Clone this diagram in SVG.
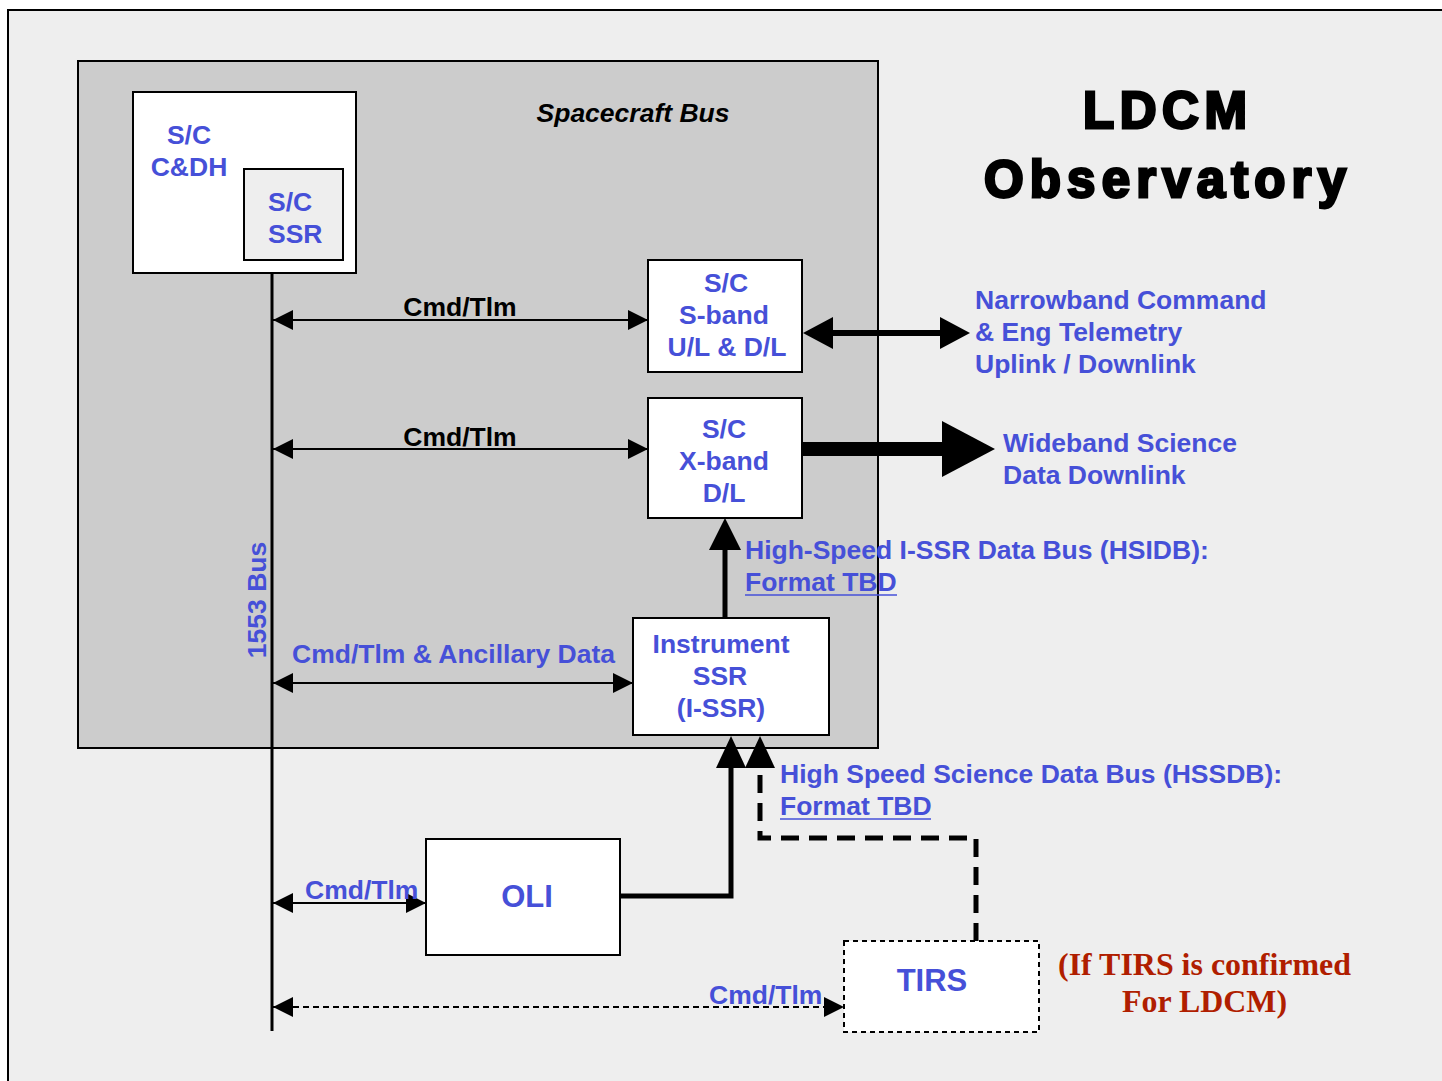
<svg xmlns="http://www.w3.org/2000/svg" width="1442" height="1081" viewBox="0 0 1442 1081">
<style>
.b{font-family:"Liberation Sans",Arial,sans-serif;font-weight:bold;font-size:26.5px;fill:#4650d8}
.k{font-family:"Liberation Sans",Arial,sans-serif;font-weight:bold;font-size:26.5px;fill:#000}
.m{text-anchor:middle}
.big{font-size:31px}
.box{fill:#fff;stroke:#000;stroke-width:2}
.thin{stroke:#000;stroke-width:2;fill:none}
.ul{stroke:#4650d8;stroke-width:1.5}
.ttl{font-family:"Liberation Sans",Arial,sans-serif;font-weight:bold;font-size:51px;fill:#000;stroke:#000;stroke-width:2.8px}
.red{font-family:"Liberation Serif","Times New Roman",serif;font-weight:bold;font-size:31px;fill:#b01e00}
</style>
<defs>
<marker id="ah" viewBox="0 0 20 20" refX="20" refY="10" markerWidth="20" markerHeight="20" markerUnits="userSpaceOnUse" orient="auto-start-reverse">
<path d="M0,0 L20,10 L0,20 Z" fill="#000"/>
</marker>
</defs>
<rect x="0" y="0" width="1442" height="1081" fill="#fff"/>
<rect x="8" y="10" width="1440" height="1080" fill="#eeeeee" stroke="#000" stroke-width="2"/>

<g id="spacecraft-bus">
<rect x="78" y="61" width="800" height="687" fill="#cccccc" stroke="#000" stroke-width="2"/>
<text class="k" x="633" y="122" text-anchor="middle" font-style="italic">Spacecraft Bus</text>
</g>

<g id="title">
<text class="ttl" x="1083" y="128" textLength="164" lengthAdjust="spacing">LDCM</text>
<text class="ttl" x="984" y="197" textLength="362" lengthAdjust="spacing">Observatory</text>
</g>

<g id="connectors">
<line x1="272" y1="268" x2="272" y2="1031" stroke="#000" stroke-width="3"/>
<line x1="273" y1="320" x2="648" y2="320" class="thin" marker-start="url(#ah)" marker-end="url(#ah)"/>
<line x1="273" y1="449" x2="648" y2="449" class="thin" marker-start="url(#ah)" marker-end="url(#ah)"/>
<line x1="273" y1="683" x2="633" y2="683" class="thin" marker-start="url(#ah)" marker-end="url(#ah)"/>
<line x1="273" y1="903" x2="426" y2="903" class="thin" marker-start="url(#ah)" marker-end="url(#ah)"/>
<line x1="273" y1="1007" x2="844" y2="1007" stroke="#000" stroke-width="2" stroke-dasharray="6,4" fill="none" marker-start="url(#ah)" marker-end="url(#ah)"/>
<line x1="830" y1="333" x2="941" y2="333" stroke="#000" stroke-width="6"/>
<path d="M803,333 L833,317 L833,349 Z" fill="#000"/>
<path d="M970,333 L940,317 L940,349 Z" fill="#000"/>
<rect x="802" y="442" width="142" height="14" fill="#000"/>
<path d="M942,421 L995,449 L942,477 Z" fill="#000"/>
<line x1="725" y1="618" x2="725" y2="545" stroke="#000" stroke-width="5"/>
<path d="M725,518 L709,550 L741,550 Z" fill="#000"/>
<polyline points="620,896 731,896 731,762" fill="none" stroke="#000" stroke-width="5"/>
<path d="M731,736 L716,768 L746,768 Z" fill="#000"/>
<polyline points="976,941 976,838 760,838 760,768" fill="none" stroke="#000" stroke-width="5" stroke-dasharray="18,10"/>
<path d="M760,736 L745,768 L775,768 Z" fill="#000"/>
</g>

<g id="bus-label">
<text class="b m" transform="translate(266,600) rotate(-90)">1553 Bus</text>
<text class="k m" x="460" y="316">Cmd/Tlm</text>
<text class="k m" x="460" y="446">Cmd/Tlm</text>
<text class="b" x="292" y="663">Cmd/Tlm &amp; Ancillary Data</text>
<text class="b" x="305" y="899">Cmd/Tlm</text>
<text class="b" x="709" y="1004">Cmd/Tlm</text>
</g>

<g id="cdh">
<rect class="box" x="133" y="92" width="223" height="181"/>
<text class="b m" x="189" y="144">S/C</text>
<text class="b m" x="189" y="176">C&amp;DH</text>
</g>
<g id="ssr">
<rect x="244" y="169" width="99" height="91" fill="#eeeeee" stroke="#000" stroke-width="2"/>
<text class="b" x="268" y="211">S/C</text>
<text class="b" x="268" y="243">SSR</text>
</g>

<g id="sband">
<rect class="box" x="648" y="260" width="154" height="112"/>
<text class="b m" x="726" y="292">S/C</text>
<text class="b m" x="724" y="324">S-band</text>
<text class="b m" x="727" y="356">U/L &amp; D/L</text>
</g>
<g id="xband">
<rect class="box" x="648" y="398" width="154" height="120"/>
<text class="b m" x="724" y="438">S/C</text>
<text class="b m" x="724" y="470">X-band</text>
<text class="b m" x="724" y="502">D/L</text>
</g>
<g id="issr">
<rect class="box" x="633" y="618" width="196" height="117"/>
<text class="b m" x="721" y="653">Instrument</text>
<text class="b m" x="720" y="685">SSR</text>
<text class="b m" x="721" y="717">(I-SSR)</text>
</g>
<g id="oli">
<rect class="box" x="426" y="839" width="194" height="116"/>
<text class="b m big" x="527" y="907">OLI</text>
</g>
<g id="tirs">
<rect x="844" y="941" width="195" height="91" fill="#fff" stroke="#000" stroke-width="2" stroke-dasharray="5,4"/>
<text class="b m big" x="932" y="991">TIRS</text>
</g>

<g id="labels">
<text class="b" x="975" y="309">Narrowband Command</text>
<text class="b" x="975" y="341">&amp; Eng Telemetry</text>
<text class="b" x="975" y="373">Uplink / Downlink</text>
<text class="b" x="1003" y="452">Wideband Science</text>
<text class="b" x="1003" y="484">Data Downlink</text>
<text class="b" x="745" y="559">High-Speed I-SSR Data Bus (HSIDB):</text>
<text class="b" x="745" y="591">Format TBD</text>
<line class="ul" x1="745" y1="595" x2="897" y2="595"/>
<text class="b" x="780" y="783">High Speed Science Data Bus (HSSDB):</text>
<text class="b" x="780" y="815">Format TBD</text>
<line class="ul" x1="780" y1="819" x2="931" y2="819"/>
<text class="red" x="1058" y="975" textLength="293" lengthAdjust="spacingAndGlyphs">(If TIRS is confirmed</text>
<text class="red" x="1122" y="1012" textLength="165" lengthAdjust="spacingAndGlyphs">For LDCM)</text>
</g>
</svg>
